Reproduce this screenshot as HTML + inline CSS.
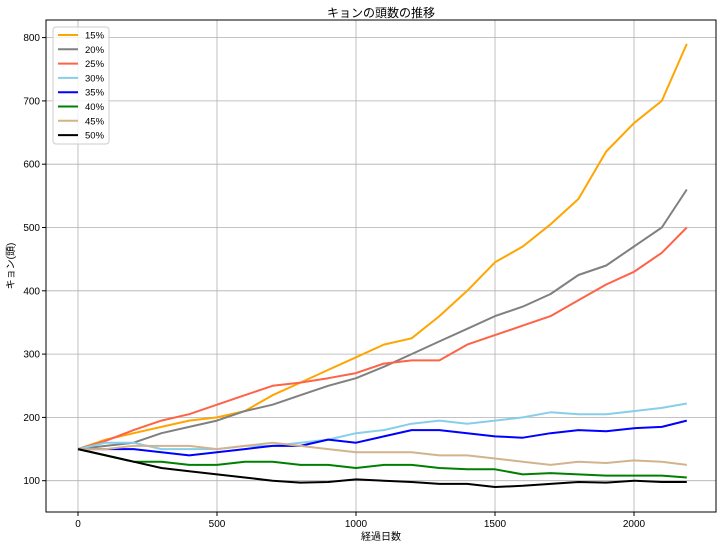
<!DOCTYPE html>
<html><head><meta charset="utf-8">
<style>
html,body{margin:0;padding:0;background:#fff;}
svg{display:block;font-family:"Liberation Sans","Noto Sans CJK JP",sans-serif;}
</style></head>
<body>
<svg id="chart" width="723" height="548" xmlns="http://www.w3.org/2000/svg">
<text x="381" y="17" text-anchor="middle" font-size="12" fill="#000">キョンの頭数の推移</text>
<g id="grid"></g>
<g id="series"></g>
<rect x="46" y="20" width="670" height="492" fill="none" stroke="#000" stroke-width="1"/>
<g id="ticks"></g>
<text x="381" y="540" text-anchor="middle" font-size="10">経過日数</text>
<text x="14" y="266" text-anchor="middle" font-size="10" transform="rotate(-90 14 266)">キョン(頭)</text>
<g id="legend"></g>
</svg>
<script>
const days = [0,100,200,300,400,500,600,700,800,900,1000,1100,1200,1300,1400,1500,1600,1700,1800,1900,2000,2100,2190];
const labels = ["15%","20%","25%","30%","35%","40%","45%","50%"];
const colors = ["orange","gray","tomato","skyblue","blue","green","tan","black"];
const s15 = [150,165,175,185,195,200,210,235,255,275,295,315,325,360,400,445,470,505,545,620,665,700,790];
const s20 = [150,155,160,175,185,195,210,220,235,250,262,280,300,320,340,360,375,395,425,440,470,500,560];
const s25 = [150,163,180,195,205,220,235,250,255,262,270,285,290,290,315,330,345,360,385,410,430,460,500];
const s30 = [150,160,160,150,150,150,155,155,160,165,175,180,190,195,190,195,200,208,205,205,210,215,222];
const s35 = [150,150,150,145,140,145,150,155,155,165,160,170,180,180,175,170,168,175,180,178,183,185,195];
const s40 = [150,140,130,130,125,125,130,130,125,125,120,125,125,120,118,118,110,112,110,108,108,108,105];
const s45 = [150,150,155,155,155,150,155,160,155,150,145,145,145,140,140,135,130,125,130,128,132,130,125];
const s50 = [150,140,130,120,115,110,105,100,97,98,102,100,98,95,95,90,92,95,98,97,100,98,98];
const allSeries = [s15,s20,s25,s30,s35,s40,s45,s50];
const xTicks = [0,500,1000,1500,2000];
const yTicks = [100,200,300,400,500,600,700,800];

const NS="http://www.w3.org/2000/svg";
function xs(d){return 78 + d*0.278;}
function ys(v){return 544 - v*0.633;}
function mk(tag,attrs,parent){const e=document.createElementNS(NS,tag);for(const k in attrs)e.setAttribute(k,attrs[k]);parent.appendChild(e);return e;}
const grid=document.getElementById('grid'), ticks=document.getElementById('ticks'), series=document.getElementById('series'), legend=document.getElementById('legend');
xTicks.forEach(t=>{
  const gl=mk('line',{x1:xs(t),x2:xs(t),y1:20,y2:512,stroke:'#b0b0b0','stroke-width':0.8},grid);
  
  
  mk('line',{x1:xs(t),x2:xs(t),y1:512,y2:516,stroke:'#000'},ticks);
  const tx=mk('text',{x:xs(t),y:527,'text-anchor':'middle','font-size':10},ticks);
  tx.textContent=t;
  
  
});
yTicks.forEach(t=>{
  const gl=mk('line',{x1:46,x2:716,y1:ys(t),y2:ys(t),stroke:'#b0b0b0','stroke-width':0.8},grid);
  
  
  mk('line',{x1:42,x2:46,y1:ys(t),y2:ys(t),stroke:'#000'},ticks);
  const tx=mk('text',{x:40,y:ys(t)+3.5,'text-anchor':'end','font-size':10},ticks);
  tx.textContent=t;
  
  
});
allSeries.forEach((s,i)=>{
  const pts=s.map((v,j)=>xs(days[j]).toFixed(1)+','+ys(v).toFixed(1)).join(' ');
  const pl=mk('polyline',{points:pts,fill:'none',stroke:colors[i],'stroke-width':2,'stroke-linejoin':'round'},series);
  
  
});
const lb=mk('rect',{x:53,y:27,width:56,height:117,rx:3,fill:'#fff','fill-opacity':0.8,stroke:'#ccc'},legend);


labels.forEach((l,i)=>{
  const y=35+i*14.3;
  const g=mk('g',{},legend);
  
  
  mk('line',{x1:58,x2:78,y1:y,y2:y,stroke:colors[i],'stroke-width':2},g);
  const t=mk('text',{x:85,y:y+3.5,'font-size':9.5},g);
  t.textContent=l;
});
</script>
</body></html>
